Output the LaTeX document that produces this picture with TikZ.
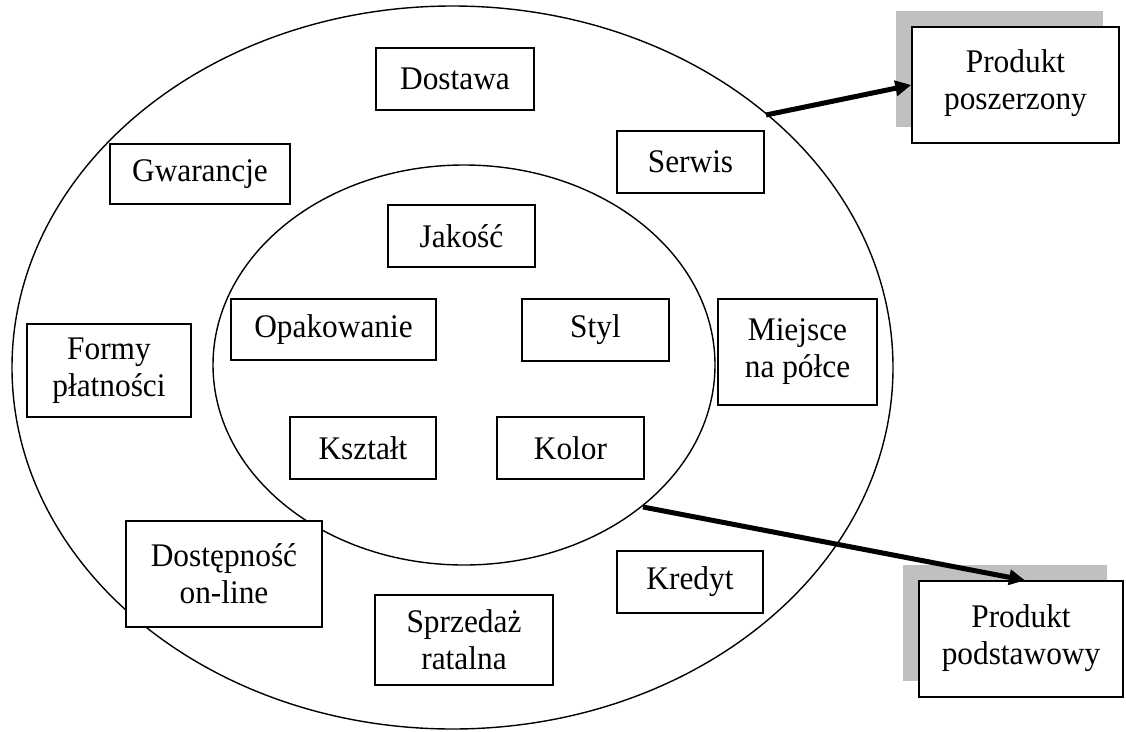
\documentclass[tikz,border=0pt]{standalone}
\usepackage{fontspec}
\setmainfont{Liberation Serif}
\newfontfamily\boxfont[FakeStretch=0.95]{Liberation Serif}
\usetikzlibrary{arrows.meta,shadows}
\definecolor{shadowgray}{RGB}{192,192,192}
\begin{document}
\begin{tikzpicture}[x=1pt,y=-1pt,
  box/.style={draw, fill=white, line width=1.4pt, align=center, inner sep=0pt,
              font=\boxfont\fontsize{33}{37}\selectfont},
  ring/.style={draw, line width=1.4pt},
  bigarrow/.style={line width=5pt, -{Triangle[length=16pt,width=15pt]}},
  shadebox/.style={box, drop shadow={shadow xshift=-16pt, shadow yshift=16pt, fill=shadowgray, opacity=1}}]
\useasboundingbox (0,0) rectangle (1126,731);
% rings
\draw[ring] (452.5,367.5) ellipse [x radius=440.5pt, y radius=361.5pt];
\draw[ring] (464,365) ellipse [x radius=251pt, y radius=200pt];
% outer ring boxes
\node[box, minimum width=158, minimum height=62] (dostawa) at (455,79) {Dostawa};
\node[box, minimum width=180, minimum height=60] (gwar) at (200,174) {Gwarancje};
\node[box, minimum width=147, minimum height=62] (serwis) at (690.5,162) {Serwis};
\node[box, minimum width=159, minimum height=106] (miejsce) at (797.5,352) {Miejsce\\na półce};
\node[box, minimum width=164, minimum height=93] (formy) at (109,370.5) {Formy\\płatności};
\node[box, minimum width=196, minimum height=106] (dostep) at (224,574) {Dostępność\\on-line};
\node[box, minimum width=178, minimum height=90] (sprzedaz) at (464,640) {Sprzedaż\\ratalna};
\node[box, minimum width=146, minimum height=62] (kredyt) at (690,582) {Kredyt};
% inner ring boxes
\node[box, minimum width=147, minimum height=62] (jakosc) at (461.5,236) {Jakość};
\node[box, minimum width=205, minimum height=61] (opak) at (333.5,329.5) {Opakowanie};
\node[box, minimum width=147, minimum height=62] (styl) at (595.5,330) {Styl};
\node[box, minimum width=146, minimum height=62] (ksztalt) at (363,448) {Kształt};
\node[box, minimum width=147, minimum height=62] (kolor) at (570.5,448) {Kolor};
% product boxes
\node[shadebox, minimum width=207, minimum height=116] (pp) at (1015.5,85) {Produkt\\poszerzony\\[-26pt]\mbox{}};
\node[shadebox, minimum width=204, minimum height=116] (pd) at (1021,639) {Produkt\\podstawowy\\[-28pt]\mbox{}};
% arrows
\coordinate (s1) at (766,115);
\coordinate (s2) at (643,507);
\draw[bigarrow] (s1) -- (pp.west);
\draw[bigarrow] (s2) -- ([xshift=4pt]pd.north);
\end{tikzpicture}
\end{document}
